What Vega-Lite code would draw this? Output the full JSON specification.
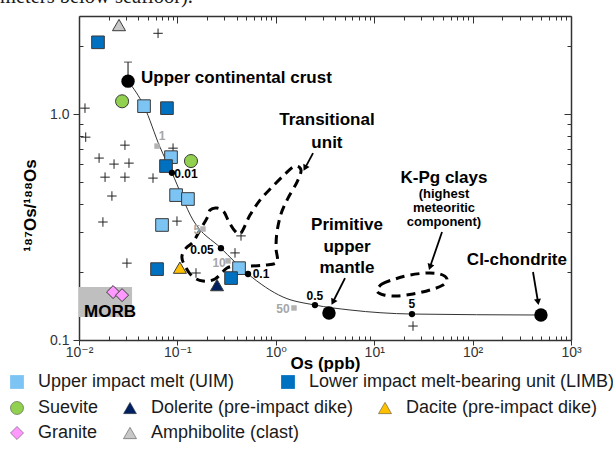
{
  "$schema": "https://vega.github.io/schema/vega-lite/v6.json",
  "width": 492,
  "height": 324,
  "autosize": "none",
  "padding": {"left": 79, "top": 16, "right": 42, "bottom": 130},
  "background": "white",
  "title": {"text": "meters below seafloor).", "anchor": "start", "frame": "group", "dx": -79, "dy": 10, "offset": 2, "font": "Liberation Serif", "fontSize": 20.5, "fontWeight": "normal", "color": "#1a1a1a", "baseline": "alphabetic"},
  "config": {"view": {"stroke": null}, "font": "Liberation Sans"},
  "datasets": {
    "mix": [
      {"x": 0.0315, "y": 1.40}, {"x": 0.0458, "y": 1.085}, {"x": 0.0666, "y": 0.714}, {"x": 0.088, "y": 0.55},
      {"x": 0.144, "y": 0.340}, {"x": 0.277, "y": 0.255}, {"x": 0.522, "y": 0.196}, {"x": 1.183, "y": 0.155},
      {"x": 2.50, "y": 0.1428}, {"x": 5.67, "y": 0.1358}, {"x": 24.2, "y": 0.1303}, {"x": 495, "y": 0.129}
    ],
    "samples1": [
      {"type": "Upper impact melt (UIM)", "x": 0.0458, "y": 1.085},
      {"type": "Upper impact melt (UIM)", "x": 0.0861, "y": 0.645},
      {"type": "Upper impact melt (UIM)", "x": 0.097, "y": 0.438},
      {"type": "Upper impact melt (UIM)", "x": 0.128, "y": 0.421},
      {"type": "Upper impact melt (UIM)", "x": 0.0698, "y": 0.323},
      {"type": "Upper impact melt (UIM)", "x": 0.423, "y": 0.208},
      {"type": "Lower impact melt-bearing unit (LIMB)", "x": 0.0156, "y": 2.08},
      {"type": "Lower impact melt-bearing unit (LIMB)", "x": 0.0783, "y": 1.063},
      {"type": "Lower impact melt-bearing unit (LIMB)", "x": 0.0766, "y": 0.589},
      {"type": "Lower impact melt-bearing unit (LIMB)", "x": 0.0621, "y": 0.206},
      {"type": "Lower impact melt-bearing unit (LIMB)", "x": 0.351, "y": 0.188}
    ],
    "samples2": [
      {"type": "Suevite", "x": 0.0274, "y": 1.14},
      {"type": "Suevite", "x": 0.1374, "y": 0.620},
      {"type": "Dolerite (pre-impact dike)", "x": 0.2527, "y": 0.175},
      {"type": "Dacite (pre-impact dike)", "x": 0.106, "y": 0.209},
      {"type": "Granite", "x": 0.0222, "y": 0.163},
      {"type": "Granite", "x": 0.0274, "y": 0.158},
      {"type": "Amphibolite (clast)", "x": 0.0255, "y": 2.48}
    ],
    "lit": [
      {"x": 0.0636, "y": 2.28}, {"x": 0.0115, "y": 1.063}, {"x": 0.0117, "y": 0.791}, {"x": 0.0293, "y": 0.729},
      {"x": 0.016, "y": 0.639}, {"x": 0.0227, "y": 0.601}, {"x": 0.0322, "y": 0.607}, {"x": 0.0184, "y": 0.526},
      {"x": 0.0293, "y": 0.526}, {"x": 0.0565, "y": 0.521}, {"x": 0.0903, "y": 0.707}, {"x": 0.0216, "y": 0.434},
      {"x": 0.0175, "y": 0.333}, {"x": 0.099, "y": 0.336}, {"x": 0.0307, "y": 0.219}, {"x": 0.1545, "y": 0.198},
      {"x": 0.443, "y": 0.289}, {"x": 0.385, "y": 0.243}, {"x": 24.8, "y": 0.1153}
    ],
    "trans": [
      {"i": 1, "x": 0.1999, "y": 0.3467}, {"i": 2, "x": 0.2145, "y": 0.3760}, {"i": 3, "x": 0.2526, "y": 0.3837},
      {"i": 4, "x": 0.2976, "y": 0.3684}, {"i": 5, "x": 0.3345, "y": 0.3327}, {"i": 6, "x": 0.3850, "y": 0.3036},
      {"i": 7, "x": 0.4429, "y": 0.2975}, {"i": 8, "x": 0.5468, "y": 0.3573}, {"i": 9, "x": 0.6910, "y": 0.4163},
      {"i": 10, "x": 0.9149, "y": 0.4753}, {"i": 11, "x": 1.240, "y": 0.5428}, {"i": 12, "x": 1.567, "y": 0.5886},
      {"i": 13, "x": 1.804, "y": 0.5651}, {"i": 14, "x": 1.642, "y": 0.5001}, {"i": 15, "x": 1.331, "y": 0.4249},
      {"i": 16, "x": 1.129, "y": 0.3610}, {"i": 17, "x": 1.028, "y": 0.3005}, {"i": 18, "x": 1.005, "y": 0.2553},
      {"i": 19, "x": 1.028, "y": 0.2214}, {"i": 20, "x": 0.7765, "y": 0.2147}, {"i": 21, "x": 0.5468, "y": 0.2126},
      {"i": 22, "x": 0.4034, "y": 0.2126}, {"i": 23, "x": 0.3192, "y": 0.2083}, {"i": 24, "x": 0.2410, "y": 0.1862},
      {"i": 25, "x": 0.1821, "y": 0.1824}, {"i": 26, "x": 0.1408, "y": 0.1919}, {"i": 27, "x": 0.1167, "y": 0.2169},
      {"i": 28, "x": 0.1113, "y": 0.2352}, {"i": 29, "x": 0.1223, "y": 0.2553}, {"i": 30, "x": 0.1441, "y": 0.2714},
      {"i": 31, "x": 0.1697, "y": 0.3067}
    ],
    "kpg": [
      {"i": 1, "x": 10.68, "y": 0.1647}, {"i": 2, "x": 12.00, "y": 0.1769}, {"i": 3, "x": 16.27, "y": 0.1862},
      {"i": 4, "x": 23.11, "y": 0.1940}, {"i": 5, "x": 34.40, "y": 0.1979}, {"i": 6, "x": 46.64, "y": 0.1959},
      {"i": 7, "x": 54.93, "y": 0.1862}, {"i": 8, "x": 50.03, "y": 0.1751}, {"i": 9, "x": 36.91, "y": 0.1664},
      {"i": 10, "x": 24.80, "y": 0.1598}, {"i": 11, "x": 17.05, "y": 0.1566}, {"i": 12, "x": 12.58, "y": 0.1582}
    ],
    "morb": [{"x": 0.01, "x2": 0.0346, "y": 0.1716, "y2": 0.1264}],
    "ucc_err": [{"x": 0.0315, "y": 1.40, "y2": 1.70}],
    "bigdots": [{"x": 0.0315, "y": 1.40}, {"x": 3.47, "y": 0.1317}, {"x": 495, "y": 0.129}],
    "mixdots": [{"x": 0.088, "y": 0.55}, {"x": 0.277, "y": 0.255}, {"x": 0.522, "y": 0.196}, {"x": 2.50, "y": 0.1428}, {"x": 24.2, "y": 0.1303}],
    "mixlabels": [
      {"t": "0.01", "x": 0.1223, "y": 0.542}, {"t": "0.05", "x": 0.178, "y": 0.250}, {"t": "0.1", "x": 0.707, "y": 0.196},
      {"t": "0.5", "x": 2.50, "y": 0.1566}, {"t": "5", "x": 24.2, "y": 0.1443}
    ],
    "pct": [{"x": 0.0621, "y": 0.722}, {"x": 0.182, "y": 0.310}, {"x": 0.327, "y": 0.224}, {"x": 1.53, "y": 0.1386}],
    "pctlabels": [{"t": "1", "x": 0.0698, "y": 0.799}, {"t": "5", "x": 0.158, "y": 0.307}, {"t": "10", "x": 0.265, "y": 0.219}, {"t": "50", "x": 1.183, "y": 0.1372}],
    "ann": [
      {"t": "Transitional", "x": 3.31, "y": 0.941, "k": "big"},
      {"t": "unit", "x": 3.31, "y": 0.744, "k": "big"},
      {"t": "K-Pg clays", "x": 51.2, "y": 0.521, "k": "big"},
      {"t": "(highest", "x": 51.2, "y": 0.443, "k": "small"},
      {"t": "meteoritic", "x": 51.2, "y": 0.384, "k": "small"},
      {"t": "component)", "x": 51.2, "y": 0.333, "k": "small"},
      {"t": "Primitive", "x": 5.29, "y": 0.323, "k": "big"},
      {"t": "upper", "x": 5.29, "y": 0.258, "k": "big"},
      {"t": "mantle", "x": 5.29, "y": 0.208, "k": "big"},
      {"t": "CI-chondrite", "x": 282, "y": 0.226, "k": "big"},
      {"t": "MORB", "x": 0.0207, "y": 0.133, "k": "big"}
    ],
    "ucclabel": [{"t": "Upper continental crust", "x": 0.0427, "y": 1.44}],
    "arrows": [
      {"id": "t", "x": 2.39, "y": 0.672, "x2": 1.98, "y2": 0.577},
      {"id": "k", "x": 48.9, "y": 0.3006, "x2": 36.9, "y2": 0.2104},
      {"id": "p", "x": 5.05, "y": 0.188, "x2": 3.81, "y2": 0.1473},
      {"id": "c", "x": 411, "y": 0.200, "x2": 462, "y2": 0.1473}
    ]
  },
  "layer": [
    {
      "data": {"name": "morb"},
      "mark": {"type": "rect", "color": "#bfbfbf"},
      "encoding": {
        "x": {"field": "x", "type": "quantitative", "scale": {"type": "log", "domain": [0.01, 1000], "nice": false},
          "axis": {"orient": "top", "values": [0.01,0.02,0.03,0.04,0.05,0.06,0.07,0.08,0.09,0.1,0.2,0.3,0.4,0.5,0.6,0.7,0.8,0.9,1,2,3,4,5,6,7,8,9,10,20,30,40,50,60,70,80,90,100,200,300,400,500,600,700,800,900,1000],
            "labels": false, "title": null, "grid": false, "domainColor": "#333", "domainWidth": 1.5, "tickColor": "#333", "tickWidth": 1,
            "tickSize": {"condition": {"test": "indexof([0.01,0.1,1,10,100,1000], datum.value) >= 0", "value": -7}, "value": -4}}},
        "x2": {"field": "x2"},
        "y": {"field": "y", "type": "quantitative", "scale": {"type": "log", "domain": [0.1, 2.72], "nice": false},
          "axis": {"orient": "right", "values": [0.1,0.2,0.3,0.4,0.5,0.6,0.7,0.8,0.9,1,2], "labels": false, "title": null, "grid": false,
            "domainColor": "#333", "domainWidth": 1.5, "tickColor": "#333", "tickWidth": 1,
            "tickSize": {"condition": {"test": "indexof([0.1,1], datum.value) >= 0", "value": -7}, "value": -4}}},
        "y2": {"field": "y2"}
      }
    },
    {
      "data": {"name": "trans"},
      "mark": {"type": "line", "interpolate": "cardinal-closed", "color": "black", "strokeWidth": 3, "strokeDash": [9, 6]},
      "encoding": {
        "x": {"field": "x", "type": "quantitative", "scale": {"type": "log", "domain": [0.01, 1000], "nice": false}, "axis": null},
        "y": {"field": "y", "type": "quantitative", "scale": {"type": "log", "domain": [0.1, 2.72], "nice": false}, "axis": null},
        "order": {"field": "i"}
      }
    },
    {
      "data": {"name": "kpg"},
      "mark": {"type": "line", "interpolate": "cardinal-closed", "color": "black", "strokeWidth": 3, "strokeDash": [9, 6]},
      "encoding": {
        "x": {"field": "x", "type": "quantitative", "scale": {"type": "log", "domain": [0.01, 1000], "nice": false}, "axis": null},
        "y": {"field": "y", "type": "quantitative", "scale": {"type": "log", "domain": [0.1, 2.72], "nice": false}, "axis": null},
        "order": {"field": "i"}
      }
    },
    {
      "data": {"name": "mix"},
      "mark": {"type": "line", "interpolate": "monotone", "color": "#333", "strokeWidth": 1},
      "encoding": {
        "x": {"field": "x", "type": "quantitative", "scale": {"type": "log", "domain": [0.01, 1000], "nice": false},
          "axis": {"orient": "bottom", "values": [0.01,0.02,0.03,0.04,0.05,0.06,0.07,0.08,0.09,0.1,0.2,0.3,0.4,0.5,0.6,0.7,0.8,0.9,1,2,3,4,5,6,7,8,9,10,20,30,40,50,60,70,80,90,100,200,300,400,500,600,700,800,900,1000],
            "labelExpr": "datum.value == 0.01 ? '10⁻²' : datum.value == 0.1 ? '10⁻¹' : datum.value == 1 ? '10⁰' : datum.value == 10 ? '10¹' : datum.value == 100 ? '10²' : datum.value == 1000 ? '10³' : ''",
            "labelFont": "Liberation Sans, DejaVu Sans", "labelFontSize": 14, "labelColor": "#333", "labelPadding": 0, "labelOverlap": false, "labelFlush": false,
            "title": "Os (ppb)", "titleFont": "Liberation Sans", "titleFontSize": 17, "titleFontWeight": "bold", "titleColor": "black",
            "titleY": 23, "titleBaseline": "middle",
            "grid": false, "domainColor": "#333", "domainWidth": 1.5, "tickColor": "#333", "tickWidth": 1,
            "tickSize": {"condition": {"test": "indexof([0.01,0.1,1,10,100,1000], datum.value) >= 0", "value": 5}, "value": -4}}},
        "y": {"field": "y", "type": "quantitative", "scale": {"type": "log", "domain": [0.1, 2.72], "nice": false},
          "axis": {"orient": "left", "values": [0.1,0.2,0.3,0.4,0.5,0.6,0.7,0.8,0.9,1,2],
            "labelExpr": "datum.value == 0.1 ? '0.1' : datum.value == 1 ? '1.0' : ''",
            "labelFont": "Liberation Sans", "labelFontSize": 14, "labelColor": "#333", "labelPadding": 4, "labelOverlap": false, "labelFlush": false,
            "title": "¹⁸⁷Os/¹⁸⁸Os", "titleFont": "Liberation Sans, DejaVu Sans", "titleFontSize": 17, "titleFontWeight": "bold", "titleColor": "black",
            "titleX": -49, "titleY": 189, "titleAngle": -90, "titleBaseline": "middle", "titleAlign": "center",
            "grid": false, "domainColor": "#333", "domainWidth": 1.5, "tickColor": "#333", "tickWidth": 1,
            "tickSize": {"condition": {"test": "indexof([0.1,1], datum.value) >= 0", "value": 6}, "value": -4}}}
      }
    },
    {
      "data": {"name": "ucc_err"},
      "mark": {"type": "rule", "color": "#333", "strokeWidth": 1.2},
      "encoding": {
        "x": {"field": "x", "type": "quantitative", "scale": {"type": "log", "domain": [0.01, 1000], "nice": false}, "axis": null},
        "y": {"field": "y", "type": "quantitative", "scale": {"type": "log", "domain": [0.1, 2.72], "nice": false}, "axis": null},
        "y2": {"field": "y2"}
      }
    },
    {
      "data": {"name": "ucc_err"},
      "mark": {"type": "tick", "orient": "horizontal", "color": "#333", "size": 8, "thickness": 1.2},
      "encoding": {
        "x": {"field": "x", "type": "quantitative", "scale": {"type": "log", "domain": [0.01, 1000], "nice": false}, "axis": null},
        "y": {"field": "y2", "type": "quantitative", "scale": {"type": "log", "domain": [0.1, 2.72], "nice": false}, "axis": null}
      }
    },
    {
      "data": {"name": "lit"},
      "mark": {"type": "point", "shape": "M-1,0L1,0M0,-1L0,1", "filled": false, "stroke": "#222", "strokeWidth": 1, "size": 90, "opacity": 1},
      "encoding": {
        "x": {"field": "x", "type": "quantitative", "scale": {"type": "log", "domain": [0.01, 1000], "nice": false}, "axis": null},
        "y": {"field": "y", "type": "quantitative", "scale": {"type": "log", "domain": [0.1, 2.72], "nice": false}, "axis": null}
      }
    },
    {
      "data": {"name": "pct"},
      "mark": {"type": "point", "shape": "square", "filled": true, "color": "#b3b3b3", "size": 30, "opacity": 1},
      "encoding": {
        "x": {"field": "x", "type": "quantitative", "scale": {"type": "log", "domain": [0.01, 1000], "nice": false}, "axis": null},
        "y": {"field": "y", "type": "quantitative", "scale": {"type": "log", "domain": [0.1, 2.72], "nice": false}, "axis": null}
      }
    },
    {
      "data": {"name": "pctlabels"},
      "mark": {"type": "text", "font": "Liberation Sans", "fontWeight": "bold", "fontSize": 12, "color": "#a6a6a6", "align": "center", "baseline": "middle"},
      "encoding": {
        "x": {"field": "x", "type": "quantitative", "scale": {"type": "log", "domain": [0.01, 1000], "nice": false}, "axis": null},
        "y": {"field": "y", "type": "quantitative", "scale": {"type": "log", "domain": [0.1, 2.72], "nice": false}, "axis": null},
        "text": {"field": "t"}
      }
    },
    {
      "data": {"name": "samples1"},
      "mark": {"type": "point", "filled": true, "size": 160, "stroke": "#3a3a3a", "strokeWidth": 1, "opacity": 1},
      "encoding": {
        "x": {"field": "x", "type": "quantitative", "scale": {"type": "log", "domain": [0.01, 1000], "nice": false}, "axis": null},
        "y": {"field": "y", "type": "quantitative", "scale": {"type": "log", "domain": [0.1, 2.72], "nice": false}, "axis": null},
        "color": {"field": "type", "type": "nominal",
          "scale": {"domain": ["Upper impact melt (UIM)", "Lower impact melt-bearing unit (LIMB)"], "range": ["#7cc4f4", "#0070c0"]},
          "legend": {"orient": "none", "legendX": -71, "legendY": 357, "direction": "horizontal", "columns": 2, "title": null,
            "symbolSize": 190, "symbolStrokeWidth": 0, "labelFont": "Liberation Sans", "labelFontSize": 18, "labelColor": "#1a1a1a",
            "columnPadding": 44, "labelOffset": 12, "labelLimit": 0}},
        "shape": {"field": "type", "type": "nominal",
          "scale": {"domain": ["Upper impact melt (UIM)", "Lower impact melt-bearing unit (LIMB)"], "range": ["square", "square"]},
          "legend": {"orient": "none", "legendX": -71, "legendY": 357, "direction": "horizontal", "columns": 2, "title": null,
            "symbolSize": 190, "symbolStrokeWidth": 0, "labelFont": "Liberation Sans", "labelFontSize": 18, "labelColor": "#1a1a1a",
            "columnPadding": 44, "labelOffset": 12, "labelLimit": 0}}
      }
    },
    {
      "data": {"name": "samples2"},
      "mark": {"type": "point", "filled": true, "size": 170, "stroke": "#3a3a3a", "strokeWidth": 1, "opacity": 1},
      "encoding": {
        "x": {"field": "x", "type": "quantitative", "scale": {"type": "log", "domain": [0.01, 1000], "nice": false}, "axis": null},
        "y": {"field": "y", "type": "quantitative", "scale": {"type": "log", "domain": [0.1, 2.72], "nice": false}, "axis": null},
        "color": {"field": "type", "type": "nominal",
          "scale": {"domain": ["Suevite", "Dolerite (pre-impact dike)", "Dacite (pre-impact dike)", "Granite", "Amphibolite (clast)"],
            "range": ["#92d050", "#002060", "#ffc000", "#ff99ff", "#c8c8c8"]},
          "legend": {"orient": "none", "legendX": -71, "legendY": 383, "direction": "horizontal", "columns": 3, "title": null,
            "symbolSize": 170, "symbolStrokeWidth": 0.5, "labelFont": "Liberation Sans", "labelFontSize": 18, "labelColor": "#1a1a1a",
            "columnPadding": 22, "rowPadding": 7, "labelOffset": 12, "labelLimit": 0}},
        "shape": {"field": "type", "type": "nominal",
          "scale": {"domain": ["Suevite", "Dolerite (pre-impact dike)", "Dacite (pre-impact dike)", "Granite", "Amphibolite (clast)"],
            "range": ["circle", "triangle-up", "triangle-up", "diamond", "triangle-up"]},
          "legend": {"orient": "none", "legendX": -71, "legendY": 383, "direction": "horizontal", "columns": 3, "title": null,
            "symbolSize": 170, "symbolStrokeWidth": 0.5, "labelFont": "Liberation Sans", "labelFontSize": 18, "labelColor": "#1a1a1a",
            "columnPadding": 22, "rowPadding": 7, "labelOffset": 12, "labelLimit": 0}}
      }
    },
    {
      "data": {"name": "bigdots"},
      "mark": {"type": "point", "shape": "circle", "filled": true, "color": "black", "size": 180, "opacity": 1},
      "encoding": {
        "x": {"field": "x", "type": "quantitative", "scale": {"type": "log", "domain": [0.01, 1000], "nice": false}, "axis": null},
        "y": {"field": "y", "type": "quantitative", "scale": {"type": "log", "domain": [0.1, 2.72], "nice": false}, "axis": null}
      }
    },
    {
      "data": {"name": "mixdots"},
      "mark": {"type": "point", "shape": "circle", "filled": true, "color": "black", "size": 40, "opacity": 1},
      "encoding": {
        "x": {"field": "x", "type": "quantitative", "scale": {"type": "log", "domain": [0.01, 1000], "nice": false}, "axis": null},
        "y": {"field": "y", "type": "quantitative", "scale": {"type": "log", "domain": [0.1, 2.72], "nice": false}, "axis": null}
      }
    },
    {
      "data": {"name": "mixlabels"},
      "mark": {"type": "text", "font": "Liberation Sans", "fontWeight": "bold", "fontSize": 12, "color": "black", "align": "center", "baseline": "middle"},
      "encoding": {
        "x": {"field": "x", "type": "quantitative", "scale": {"type": "log", "domain": [0.01, 1000], "nice": false}, "axis": null},
        "y": {"field": "y", "type": "quantitative", "scale": {"type": "log", "domain": [0.1, 2.72], "nice": false}, "axis": null},
        "text": {"field": "t"}
      }
    },
    {
      "data": {"name": "ann"},
      "transform": [{"filter": "datum.k == 'big'"}],
      "mark": {"type": "text", "font": "Liberation Sans", "fontWeight": "bold", "fontSize": 17, "color": "black", "align": "center", "baseline": "middle"},
      "encoding": {
        "x": {"field": "x", "type": "quantitative", "scale": {"type": "log", "domain": [0.01, 1000], "nice": false}, "axis": null},
        "y": {"field": "y", "type": "quantitative", "scale": {"type": "log", "domain": [0.1, 2.72], "nice": false}, "axis": null},
        "text": {"field": "t"}
      }
    },
    {
      "data": {"name": "ann"},
      "transform": [{"filter": "datum.k == 'small'"}],
      "mark": {"type": "text", "font": "Liberation Sans", "fontWeight": "bold", "fontSize": 13, "color": "black", "align": "center", "baseline": "middle"},
      "encoding": {
        "x": {"field": "x", "type": "quantitative", "scale": {"type": "log", "domain": [0.01, 1000], "nice": false}, "axis": null},
        "y": {"field": "y", "type": "quantitative", "scale": {"type": "log", "domain": [0.1, 2.72], "nice": false}, "axis": null},
        "text": {"field": "t"}
      }
    },
    {
      "data": {"name": "ucclabel"},
      "mark": {"type": "text", "font": "Liberation Sans", "fontWeight": "bold", "fontSize": 17, "color": "black", "align": "left", "baseline": "middle"},
      "encoding": {
        "x": {"field": "x", "type": "quantitative", "scale": {"type": "log", "domain": [0.01, 1000], "nice": false}, "axis": null},
        "y": {"field": "y", "type": "quantitative", "scale": {"type": "log", "domain": [0.1, 2.72], "nice": false}, "axis": null},
        "text": {"field": "t"}
      }
    },
    {
      "data": {"name": "arrows"},
      "mark": {"type": "rule", "color": "black", "strokeWidth": 1.8},
      "encoding": {
        "x": {"field": "x", "type": "quantitative", "scale": {"type": "log", "domain": [0.01, 1000], "nice": false}, "axis": null},
        "y": {"field": "y", "type": "quantitative", "scale": {"type": "log", "domain": [0.1, 2.72], "nice": false}, "axis": null},
        "x2": {"field": "x2"},
        "y2": {"field": "y2"}
      }
    },
    {
      "data": {"name": "arrows"},
      "transform": [{"filter": "datum.id == 't'"}],
      "mark": {"type": "point", "shape": "triangle-up", "filled": true, "color": "black", "size": 50, "angle": 208, "opacity": 1},
      "encoding": {
        "x": {"field": "x2", "type": "quantitative", "scale": {"type": "log", "domain": [0.01, 1000], "nice": false}, "axis": null},
        "y": {"field": "y2", "type": "quantitative", "scale": {"type": "log", "domain": [0.1, 2.72], "nice": false}, "axis": null}
      }
    },
    {
      "data": {"name": "arrows"},
      "transform": [{"filter": "datum.id == 'k'"}],
      "mark": {"type": "point", "shape": "triangle-up", "filled": true, "color": "black", "size": 50, "angle": 199, "opacity": 1},
      "encoding": {
        "x": {"field": "x2", "type": "quantitative", "scale": {"type": "log", "domain": [0.01, 1000], "nice": false}, "axis": null},
        "y": {"field": "y2", "type": "quantitative", "scale": {"type": "log", "domain": [0.1, 2.72], "nice": false}, "axis": null}
      }
    },
    {
      "data": {"name": "arrows"},
      "transform": [{"filter": "datum.id == 'p'"}],
      "mark": {"type": "point", "shape": "triangle-up", "filled": true, "color": "black", "size": 50, "angle": 207, "opacity": 1},
      "encoding": {
        "x": {"field": "x2", "type": "quantitative", "scale": {"type": "log", "domain": [0.01, 1000], "nice": false}, "axis": null},
        "y": {"field": "y2", "type": "quantitative", "scale": {"type": "log", "domain": [0.1, 2.72], "nice": false}, "axis": null}
      }
    },
    {
      "data": {"name": "arrows"},
      "transform": [{"filter": "datum.id == 'c'"}],
      "mark": {"type": "point", "shape": "triangle-up", "filled": true, "color": "black", "size": 50, "angle": 170, "opacity": 1},
      "encoding": {
        "x": {"field": "x2", "type": "quantitative", "scale": {"type": "log", "domain": [0.01, 1000], "nice": false}, "axis": null},
        "y": {"field": "y2", "type": "quantitative", "scale": {"type": "log", "domain": [0.1, 2.72], "nice": false}, "axis": null}
      }
    }
  ],
  "resolve": {"scale": {"color": "independent", "shape": "independent"}, "axis": {"x": "independent", "y": "independent"}}
}
